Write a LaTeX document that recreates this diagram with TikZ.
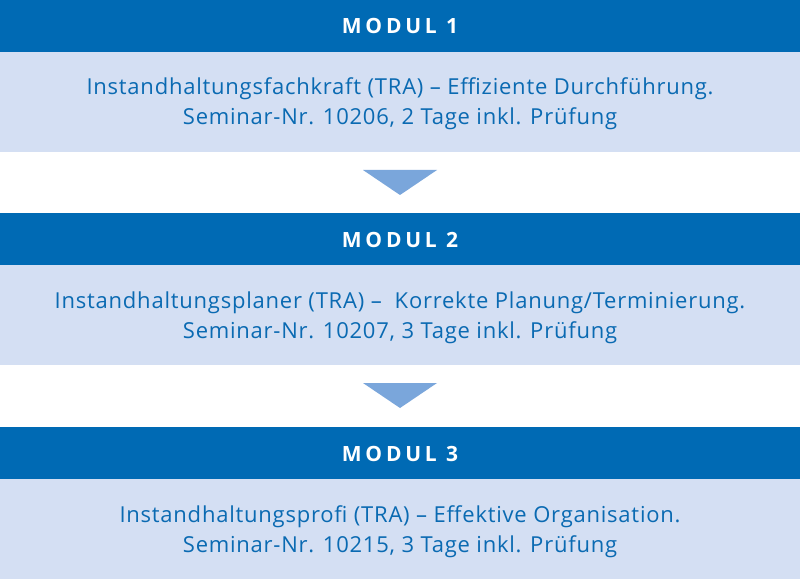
\documentclass[tikz,border=0pt]{standalone}
\usepackage{fontspec}
\setmainfont{Open Sans}[LetterSpace=3.5]
\newfontfamily\headfont[LetterSpace=18]{Open Sans Bold}
\definecolor{darkblue}{HTML}{006AB4}
\definecolor{lightband}{HTML}{D4DFF3}
\definecolor{textblue}{HTML}{0A6AB2}
\definecolor{arrowblue}{HTML}{7AA6DB}
\begin{document}
\begin{tikzpicture}[x=1pt,y=-1pt,
  headtext/.style={anchor=base,inner sep=0pt,text=white,font=\headfont\fontsize{21}{24}\selectfont},
  bodytext/.style={anchor=base,inner sep=0pt,text=textblue,font=\fontsize{22}{30}\selectfont}]
\useasboundingbox (0,0) rectangle (800,580);
\fill[white] (0,0) rectangle (800,580);
% bands
\foreach \t/\n in {0/1,213/2,427/3}{
  \fill[darkblue] (0,\t) rectangle (800,\t+52);
  \fill[lightband] (0,\t+52) rectangle (800,\t+152);
}
% arrows
\fill[arrowblue] (363,170) -- (437,170) -- (400,195) -- cycle;
\fill[arrowblue] (363,383) -- (437,383) -- (400,408) -- cycle;
% headers
\node[headtext] (h1) at (400,34) {MODUL 1};
\node[headtext] (h2) at (400,247) {MODUL 2};
\node[headtext] (h3) at (400,461) {MODUL 3};
% bodies
\node[bodytext] (a1) at (400,95) {Instandhaltungsfachkraft (TRA) – Effiziente Durchführung.};
\node[bodytext] (a2) at (400,125) {Seminar-Nr. 10206, 2 Tage inkl. Prüfung};
\node[bodytext] (b1) at (400,308) {Instandhaltungsplaner (TRA) –\ \ Korrekte Planung/Terminierung.};
\node[bodytext] (b2) at (400,338) {Seminar-Nr. 10207, 3 Tage inkl. Prüfung};
\node[bodytext] (c1) at (400,522) {Instandhaltungsprofi (TRA) – Effektive Organisation.};
\node[bodytext] (c2) at (400,552) {Seminar-Nr. 10215, 3 Tage inkl. Prüfung};
\end{tikzpicture}
\end{document}
